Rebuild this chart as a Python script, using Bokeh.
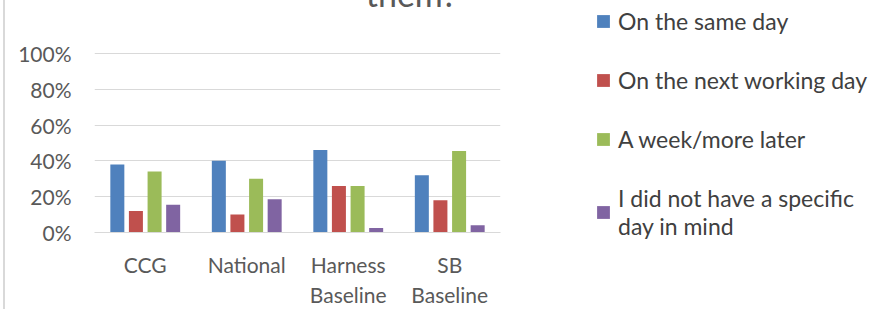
from bokeh.plotting import figure
from bokeh.models import (FactorRange, Range1d, Legend, LegendItem, Label,
                          NumeralTickFormatter, FixedTicker)
from bokeh.transform import dodge
from bokeh.embed import file_html
from bokeh.resources import INLINE
from bokeh.models import ColumnDataSource

categories = ["CCG", "National", "Harness\nBaseline", "SB\nBaseline"]
series_names = ["On the same day", "On the next working day", "A week/more later",
                "I did not have a specific\nday in mind"]
same_day = [0.38, 0.40, 0.46, 0.32]
next_day = [0.12, 0.10, 0.26, 0.18]
week_later = [0.34, 0.30, 0.26, 0.455]
no_day = [0.155, 0.185, 0.025, 0.04]
y_ticks = [0, 0.2, 0.4, 0.6, 0.8, 1.0]
colors = ["#4F81BD", "#C0504D", "#9BBB59", "#8064A2"]
offsets = [-0.275, -0.092, 0.092, 0.275]
FONT = "Lato"
TXT = "#595959"

source = ColumnDataSource(dict(cat=categories, s0=same_day, s1=next_day,
                               s2=week_later, s3=no_day))

p = figure(frame_width=406, frame_height=180, output_backend="svg", toolbar_location=None,
           x_range=FactorRange(*categories, range_padding=0),
           y_range=Range1d(0, 1.005),
           min_border_left=89, min_border_right=383, min_border_top=52,
           min_border_bottom=60,
           margin=(0, 0, 0, 3),
           styles={"border-left": "2px solid #D9D9D9", "border-right": "2px solid #D9D9D9"})
p.outline_line_color = None
p.background_fill_color = "white"
p.border_fill_color = "white"
p.xgrid.grid_line_color = None
p.ygrid.grid_line_color = "#D9D9D9"
p.ygrid.grid_line_width = 1

p.yaxis.ticker = FixedTicker(ticks=y_ticks)
p.yaxis.formatter = NumeralTickFormatter(format="0%")
p.yaxis.axis_line_color = None
p.yaxis.major_tick_line_color = None
p.yaxis.minor_tick_line_color = None
p.yaxis.major_label_standoff = 17
p.xaxis.axis_line_color = "#D9D9D9"
p.xaxis.major_tick_line_color = None
p.xaxis.minor_tick_line_color = None
p.xaxis.major_label_standoff = 13
for ax in (p.xaxis, p.yaxis):
    ax.major_label_text_font = FONT
    ax.major_label_text_font_size = "21px"
    ax.major_label_text_color = TXT

renderers = []
for i, key in enumerate(["s0", "s1", "s2", "s3"]):
    r = p.vbar(x=dodge("cat", offsets[i], range=p.x_range), top=key, width=0.138,
               source=source, fill_color=colors[i], line_color=None)
    renderers.append(r)

legend = Legend(items=[LegendItem(label=series_names[i], renderers=[renderers[i]])
                       for i in range(4)],
                location=(95, -8))
legend.border_line_color = None
legend.background_fill_alpha = 0
legend.padding = 0
legend.margin = 0
legend.glyph_width = 16
legend.glyph_height = 16
legend.label_standoff = 7
legend.spacing = 31
legend.label_text_font = FONT
legend.label_text_font_size = "23px"
legend.label_text_line_height = 1.35
legend.label_text_color = "#404040"
p.add_layout(legend, "right")

title = Label(x=317, y=59, x_units="screen", y_units="screen", text="them?",
              text_font=FONT, text_font_size="34px", text_color=TXT,
              text_align="center", text_baseline="alphabetic")
p.add_layout(title, "above")

open("out.html", "w").write(file_html(p, INLINE))
